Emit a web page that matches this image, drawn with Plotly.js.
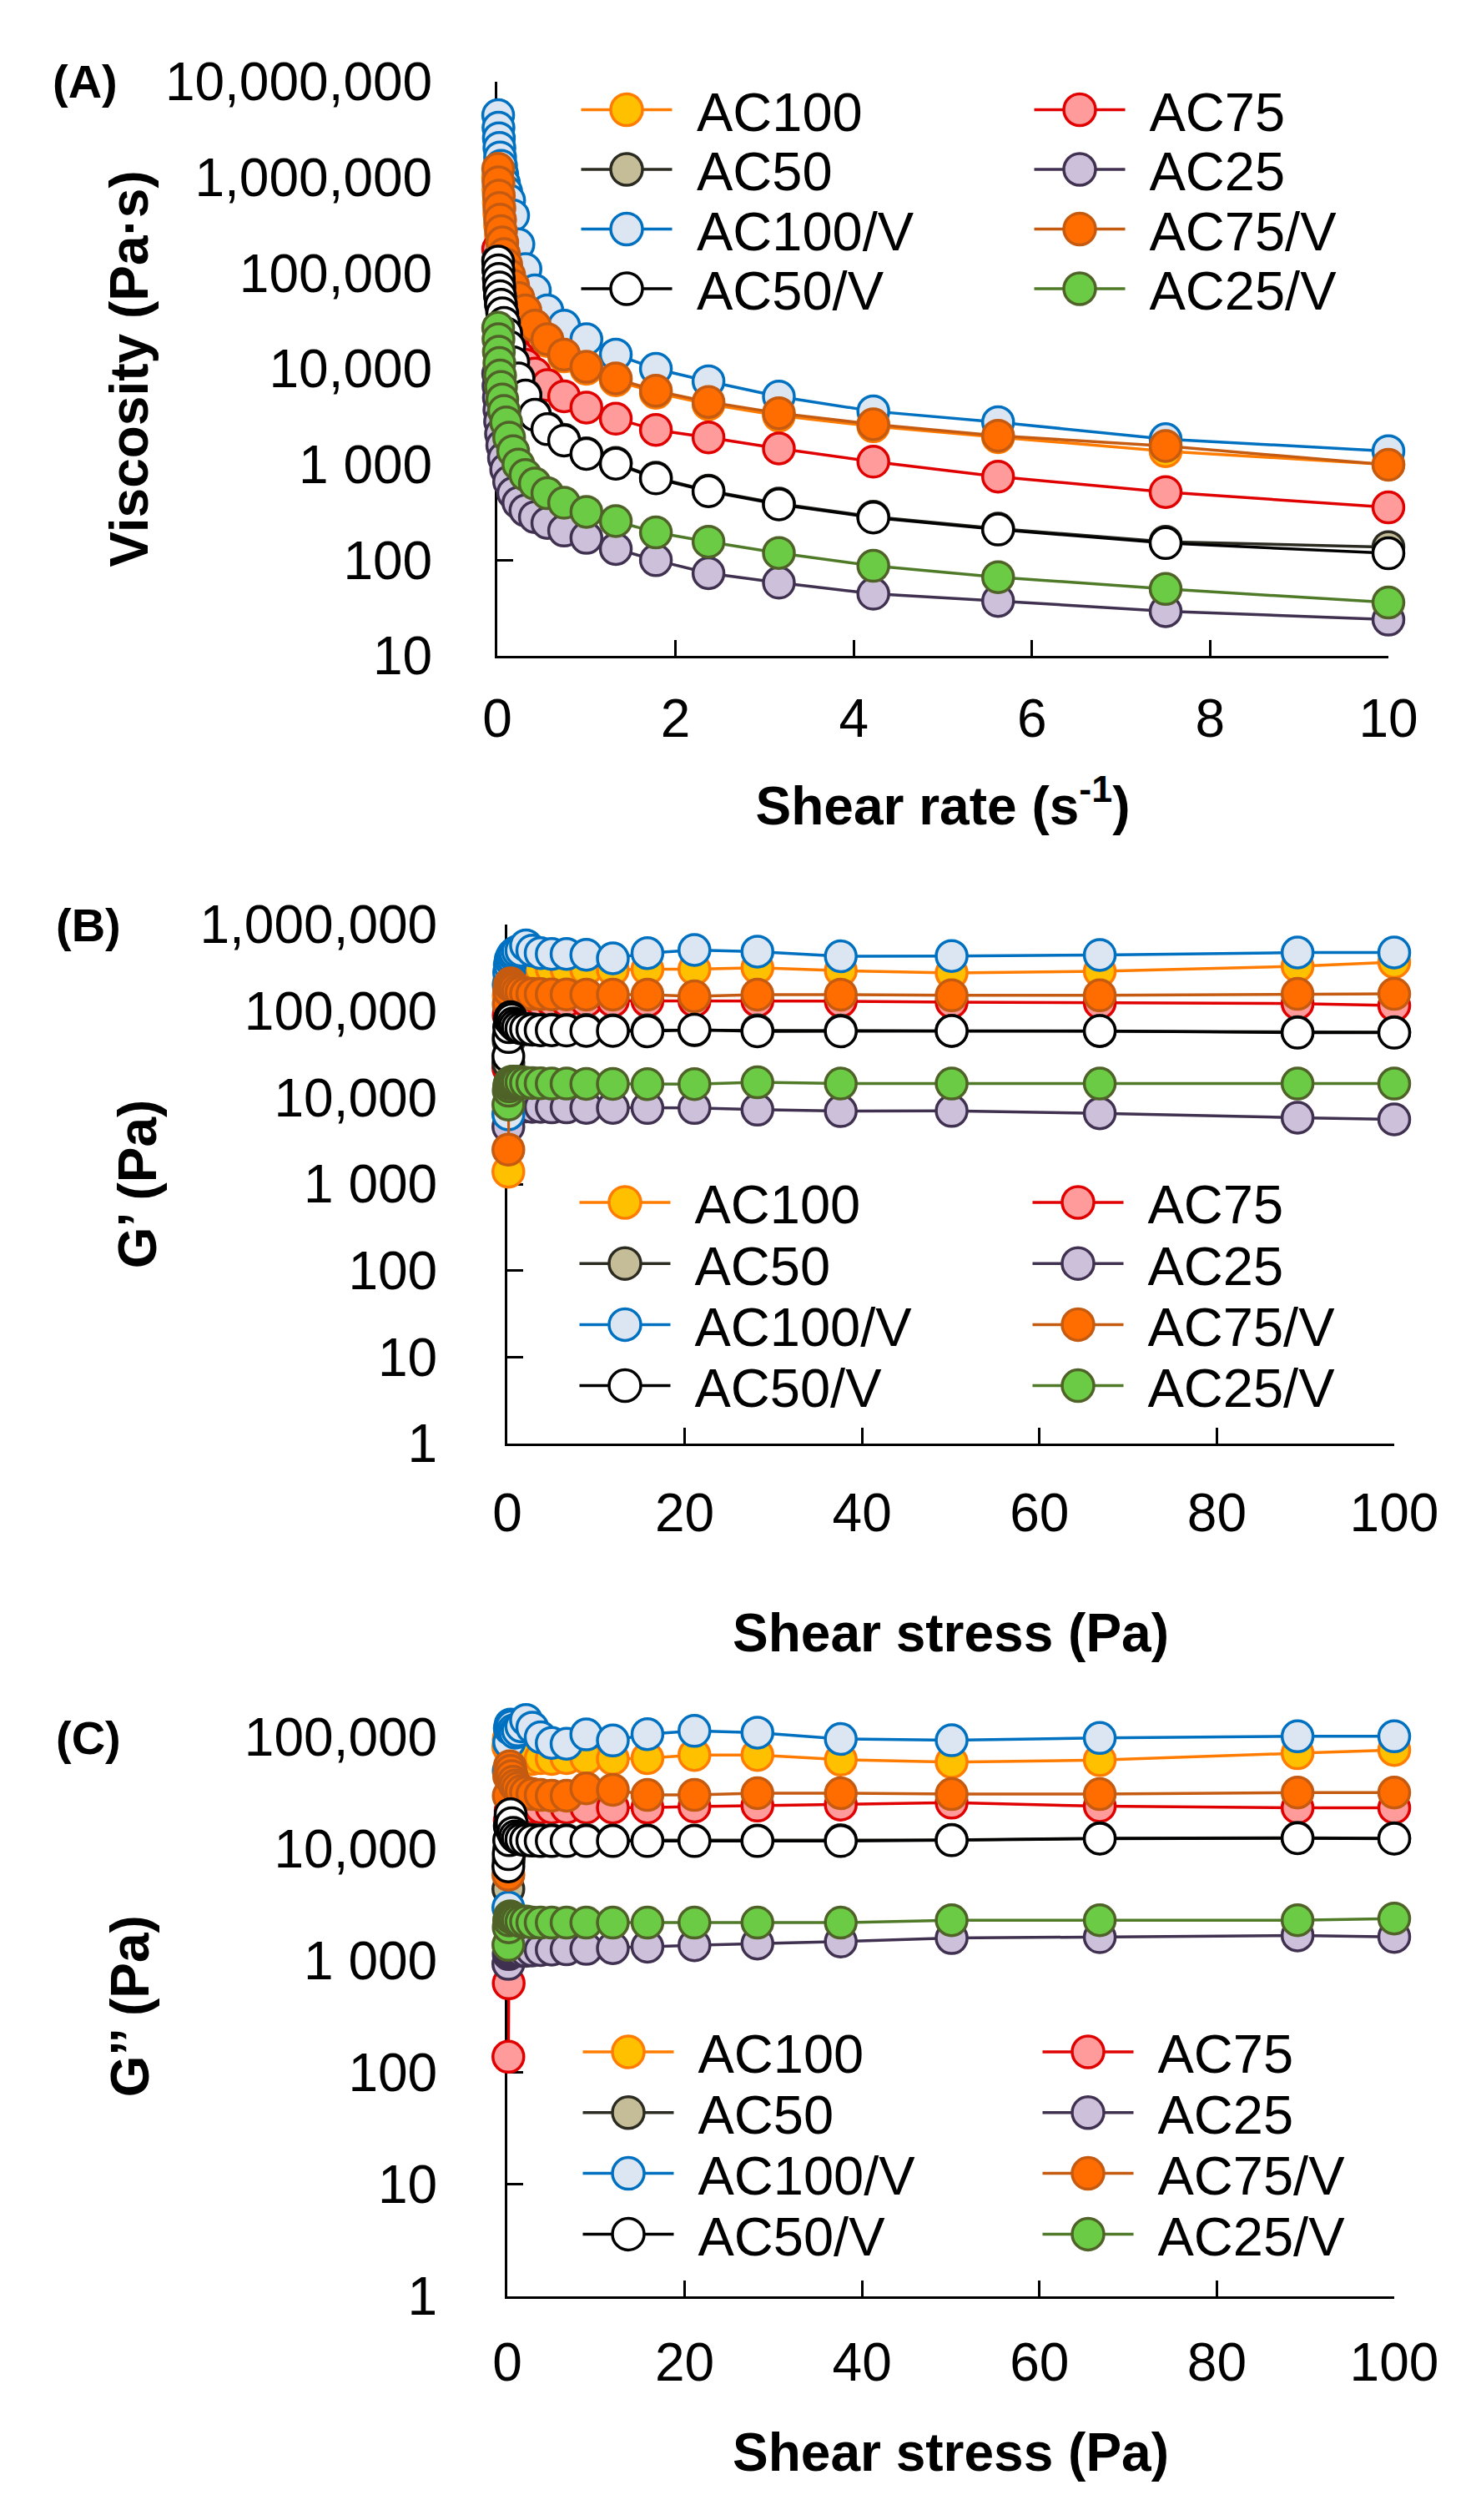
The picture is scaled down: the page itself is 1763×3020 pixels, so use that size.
<!DOCTYPE html>
<html><head><meta charset="utf-8">
<script src="https://cdn.plot.ly/plotly-3.0.1.min.js"></script>
<style>html,body{margin:0;padding:0;background:#fff}</style>
</head><body>
<div id="chart" style="width:1763px;height:3020px"></div>
<script>
// ---------- DATA ----------
const seriesNames = ['AC100','AC75','AC50','AC25','AC100/V','AC75/V','AC50/V','AC25/V'];

// Panel A: viscosity (Pa·s) vs shear rate (1/s)
const shearRate = [0.01,0.0133,0.0178,0.0237,0.0316,0.0422,0.0562,0.075,0.1,0.133,0.178,0.237,0.316,0.422,0.562,0.75,1.0,1.33,1.78,2.37,3.16,4.22,5.62,7.5,10];
const viscAC100  = [1000000,741000,550000,417000,316000,245000,191000,148000,115000,91200,70800,52500,38900,26900,19500,13500,10000,7590,5620,4270,3240,2510,1930,1380,1000];
const viscAC75   = [178000,135000,105000,81300,63100,50100,39800,31600,25700,20900,16600,13500,11000,8910,6760,5160,3940,3010,2300,1920,1470,1070,746,515,356];
const viscAC50   = [137000,110000,89000,72000,58500,47500,38500,30500,23700,17300,11900,8100,5350,3380,2390,1810,1310,1040,728,533,390,285,214,156,137];
const viscAC25   = [8910,6610,5010,3720,2820,2090,1580,1170,891,661,501,398,331,282,245,204,171,131,100,73,58.2,44.6,37.5,29.3,23.9];
const viscAC100V = [4470000,3310000,2570000,2040000,1620000,1320000,1070000,871000,708000,575000,400000,200000,110000,66000,40700,28200,20400,14100,10000,7410,5130,3600,2770,1840,1380];
const viscAC75V  = [1230000,891000,646000,479000,363000,275000,209000,158000,123000,95500,74100,55000,40700,28200,20400,14100,10500,7940,5890,4500,3440,2630,2000,1560,993];
const viscAC50V  = [132000,107000,87100,70800,57500,46800,38000,30200,23400,17000,11700,7940,5250,3310,2340,1780,1290,1020,716,525,383,279,209,151,118];
const viscAC25V  = [26900,20400,15100,11500,8510,6460,4790,3630,2750,1910,1380,1000,776,631,501,398,320,256,195,156,119,87.3,66.5,50.0,36.1];

// Panels B and C: shear stress (Pa)
const shearStress = [0.119,0.158,0.211,0.282,0.376,0.501,0.668,0.891,1.19,1.58,2.11,2.82,3.76,5.01,6.68,8.91,11.9,15.8,21.1,28.2,37.6,50.1,66.8,89.1,100];

// Panel B: G' (Pa)
const gpAC100  = [1390,150000,220000,260000,280000,295000,300000,305000,310000,312000,315000,312000,310000,308000,305000,303000,300000,305000,305000,316000,293000,275000,288000,330000,368000];
const gpAC75   = [22000,90000,110000,120000,125000,128000,130000,131000,132000,132000,132000,132000,131000,131000,131000,131000,131000,131000,131000,131000,130000,127000,124000,122000,116000];
const gpAC50   = [25000,45000,52000,56000,58000,60000,61000,62000,62000,62000,62000,61500,61000,61000,60500,60500,60000,60000,60000,60000,59500,59000,58500,57000,57000];
const gpAC25   = [4600,6500,7200,7500,7700,7800,7900,7900,7900,7900,7900,7800,7800,7700,7700,7600,7600,7570,7570,7250,6970,7010,6580,5850,5590];
const gpAC100V = [6400,200000,280000,340000,390000,420000,450000,470000,490000,500000,575000,500000,468000,457000,457000,447000,407000,467000,508000,487000,430000,433000,445000,475000,475000];
const gpAC75V  = [2500,120000,170000,200000,209000,200000,190000,180000,170000,165000,160000,158000,157000,156000,156000,155000,155000,155000,148000,155000,155000,152000,152000,158000,158000];
const gpAC50V  = [30000,50000,65000,80000,85000,80000,72000,68000,65000,63000,62000,61000,60000,60000,59500,59000,59000,58300,60800,58300,58300,58900,58900,56200,56200];
const gpAC25V  = [8300,12000,13500,14500,15000,15200,15300,15300,15200,15000,14800,14700,14600,14500,14500,14400,14400,14300,14300,15000,14500,14500,14500,14500,14500];

// Panel C: G'' (Pa)
const gppAC100  = [82000,95000,100000,90000,80000,72000,68000,65000,63000,62000,63000,64000,65000,64000,65000,65000,64000,65000,69500,69500,63000,60000,62500,72000,77000];
const gppAC75   = [139,630,9000,18000,22000,24000,25000,25000,24500,24000,23500,23500,23500,23500,23500,23500,23500,23500,24000,24500,25000,26000,24200,23400,23400];
const gppAC50   = [4400,8000,10000,11500,12000,12500,12500,12500,12500,12300,12200,12100,12000,12000,12000,12000,11900,11900,11900,11900,12000,12100,12500,12600,12500];
const gppAC25   = [940,1150,1200,1220,1230,1230,1230,1230,1230,1230,1230,1240,1250,1260,1270,1280,1300,1340,1380,1430,1490,1600,1630,1690,1640];
const gppAC100V = [3000,50000,90000,120000,130000,125000,115000,110000,115000,125000,143000,122000,100000,89000,87500,106000,93500,106600,114000,110000,96600,94000,98500,102000,102000];
const gppAC75V  = [5900,30000,45000,55000,50000,45000,40000,37000,35000,33000,32000,31000,30500,30000,30000,34900,33900,30500,30500,31600,31600,31000,31000,32000,32000];
const gppAC50V  = [7000,9000,12000,16000,20500,17000,14000,13000,12500,12200,12000,11900,11800,11800,11800,11800,11800,11800,11800,11800,11800,12000,12400,12500,12400];
const gppAC25V  = [1390,2000,2300,2500,2500,2450,2400,2350,2300,2250,2250,2200,2200,2200,2200,2200,2200,2200,2200,2200,2200,2310,2310,2310,2390];

// Tick labels
const tickValsA = [10,100,1000,10000,100000,1000000,10000000];
const tickTextA = ['10','100','1 000','10,000','100,000','1,000,000','10,000,000'];
const tickValsB = [1,10,100,1000,10000,100000,1000000];
const tickTextB = ['1','10','100','1 000','10,000','100,000','1,000,000'];
const tickValsC = [1,10,100,1000,10000,100000];
const tickTextC = ['1','10','100','1 000','10,000','100,000'];

// ---------- STYLE ----------
const styles = [
  {line:'#FF7C00', fill:'#FFC000', edge:'#FF7C00'},
  {line:'#E00000', fill:'#FF9B9B', edge:'#E00000'},
  {line:'#2B2B22', fill:'#C4BD97', edge:'#2B2B22'},
  {line:'#403151', fill:'#CCC0DA', edge:'#403151'},
  {line:'#0070C0', fill:'#DCE6F2', edge:'#0070C0'},
  {line:'#C55A11', fill:'#FF6D00', edge:'#C55A11'},
  {line:'#000000', fill:'#FFFFFF', edge:'#000000'},
  {line:'#4F7A28', fill:'#6CCB45', edge:'#4F6228'}
];

const panels = [
  {x: shearRate,   ys:[viscAC100,viscAC75,viscAC50,viscAC25,viscAC100V,viscAC75V,viscAC50V,viscAC25V], xa:'x',  ya:'y',  legs:['legend','legend2']},
  {x: shearStress, ys:[gpAC100,gpAC75,gpAC50,gpAC25,gpAC100V,gpAC75V,gpAC50V,gpAC25V],                xa:'x2', ya:'y2', legs:['legend3','legend4']},
  {x: shearStress, ys:[gppAC100,gppAC75,gppAC50,gppAC25,gppAC100V,gppAC75V,gppAC50V,gppAC25V],        xa:'x3', ya:'y3', legs:['legend5','legend6']}
];

const traces = [];
panels.forEach(p => {
  p.ys.forEach((yv, i) => {
    const s = styles[i];
    traces.push({
      type:'scatter', mode:'lines+markers', name: seriesNames[i],
      x: p.x, y: yv, xaxis: p.xa, yaxis: p.ya,
      legend: p.legs[i % 2],
      line:{color:s.line, width:3.5},
      marker:{symbol:'circle', size:37, color:s.fill, line:{color:s.edge, width:3.5}},
      cliponaxis:false
    });
  });
});

const W = 1763, H = 3020;
const FONT = 'Liberation Sans, Arial, Helvetica, sans-serif';
const axisCommon = {
  showline:true, linecolor:'#000', linewidth:3, ticks:'inside', ticklen:19, tickwidth:3, tickcolor:'#000',
  showgrid:false, zeroline:false, layer:'below traces', automargin:false,
  tickfont:{family:FONT, size:64, color:'#000'}
};
const titleFont = {family:FONT, size:64, color:'#000'};

function legendBox(x, y){
  return {x:x, y:y, xanchor:'left', yanchor:'top', bgcolor:'rgba(0,0,0,0)', borderwidth:0,
          font:{family:FONT, size:65, color:'#000'}, itemwidth:128, tracegroupgap:0, traceorder:'normal'};
}

const layout = {
  width:W, height:H, margin:{l:0,r:0,t:0,b:0},
  paper_bgcolor:'#fff', plot_bgcolor:'rgba(0,0,0,0)',
  font:{family:FONT, size:63, color:'#000'},
  showlegend:true,
  xaxis: Object.assign({}, axisCommon, {domain:[596/W, 1664/W], anchor:'y', range:[0,10], tick0:0, dtick:2, ticklabelstandoff:17,
         title:{text:'<b>Shear rate (s<sup>-1</sup>)</b>', font:titleFont, standoff:48}}),
  yaxis: Object.assign({}, axisCommon, {domain:[1-786/H, 1-98/H], anchor:'x', type:'log', range:[1,7], tickvals:tickValsA, ticktext:tickTextA, ticklabelstandoff:62,
         title:{text:'<b>Viscosity (Pa·s)</b>', font:titleFont, standoff:0}}),
  xaxis2: Object.assign({}, axisCommon, {domain:[608/W, 1671/W], anchor:'y2', range:[0,100], tick0:0, dtick:20, ticklabelstandoff:25,
         title:{text:'<b>Shear stress (Pa)</b>', font:titleFont, standoff:87}}),
  yaxis2: Object.assign({}, axisCommon, {domain:[1-1730/H, 1-1108/H], anchor:'x2', type:'log', range:[0,6], tickvals:tickValsB, ticktext:tickTextB, ticklabelstandoff:68,
         title:{text:'<b>G’ (Pa)</b>', font:titleFont, standoff:32}}),
  xaxis3: Object.assign({}, axisCommon, {domain:[608/W, 1671/W], anchor:'y3', range:[0,100], tick0:0, dtick:20, ticklabelstandoff:21,
         title:{text:'<b>Shear stress (Pa)</b>', font:titleFont, standoff:51}}),
  yaxis3: Object.assign({}, axisCommon, {domain:[1-2752/H, 1-2056.5/H], anchor:'x3', type:'log', range:[0,5.19], tickvals:tickValsC, ticktext:tickTextC, ticklabelstandoff:68,
         title:{text:'<b>G’’ (Pa)</b>', font:titleFont, standoff:94}}),
  legend:  legendBox(697/W, 1-90/H),
  legend2: legendBox(1240/W, 1-90/H),
  legend3: legendBox(697/W, 1-1400/H),
  legend4: legendBox(1240/W, 1-1400/H),
  legend5: legendBox(697/W, 1-2420/H),
  legend6: legendBox(1250/W, 1-2420/H),
  annotations: [
    {text:'<b>(A)</b>', x:102/W, y:1-97/H, xref:'paper', yref:'paper', showarrow:false, xanchor:'center', yanchor:'middle', font:{family:FONT, size:56, color:'#000'}},
    {text:'<b>(B)</b>', x:106/W, y:1-1108/H, xref:'paper', yref:'paper', showarrow:false, xanchor:'center', yanchor:'middle', font:{family:FONT, size:56, color:'#000'}},
    {text:'<b>(C)</b>', x:106/W, y:1-2082/H, xref:'paper', yref:'paper', showarrow:false, xanchor:'center', yanchor:'middle', font:{family:FONT, size:56, color:'#000'}}
  ]
};

// legend item geometry (marker centre of first row, row pitch, text offset from marker centre)
const legendGeom = {
  legend:  {mx:751,  my:131.5, dy:71.5, tx:84},
  legend2: {mx:1294, my:131.5, dy:71.5, tx:82},
  legend3: {mx:749,  my:1441,  dy:73.2, tx:83},
  legend4: {mx:1292, my:1441,  dy:73.2, tx:80},
  legend5: {mx:753,  my:2459,  dy:72.8, tx:77},
  legend6: {mx:1304, my:2459,  dy:72.8, tx:68}
};

function restyleLegends(gd){
  const r = 19, half = 54.5;
  Object.keys(legendGeom).forEach(id => {
    const g = gd.querySelector('.infolayer g.' + id);
    if(!g) return;
    const items = Array.from(g.querySelectorAll('g.traces'));
    if(!items.length) return;
    const m = /translate\(\s*([-\d.e]+)[ ,]+([-\d.e]+)\s*\)/.exec(items[0].getAttribute('transform') || '');
    const tx0 = m ? parseFloat(m[1]) : 0, ty0 = m ? parseFloat(m[2]) : 0;
    const geo = legendGeom[id];
    items.forEach((it, k) => {
      it.setAttribute('transform', 'translate(' + tx0 + ',' + (ty0 + k*geo.dy) + ')');
      const ln = it.querySelector('.legendlines path');
      if(ln){ ln.setAttribute('d', 'M0,0h' + (2*half)); ln.style.strokeWidth = '3.5px'; }
      const pt = it.querySelector('.legendpoints path.scatterpts');
      if(pt){
        pt.setAttribute('d', 'M'+r+',0A'+r+','+r+' 0 1,1 0,-'+r+'A'+r+','+r+' 0 0,1 '+r+',0Z');
        pt.setAttribute('transform', 'translate(' + half + ',0)');
        pt.style.strokeWidth = '3.5px';
      }
      const tx = it.querySelector('text.legendtext');
      if(tx){ tx.setAttribute('x', half + geo.tx); tx.querySelectorAll('tspan[x]').forEach(t => t.setAttribute('x', half + geo.tx)); }
    });
    g.setAttribute('transform', 'translate(' + (geo.mx - half - tx0) + ',' + (geo.my - ty0) + ')');
    const sb = g.querySelector('.scrollbox');
    if(sb) sb.removeAttribute('clip-path');
  });
}

Plotly.newPlot('chart', traces, layout, {staticPlot:true, displayModeBar:false}).then(restyleLegends);
</script>
</body></html>
